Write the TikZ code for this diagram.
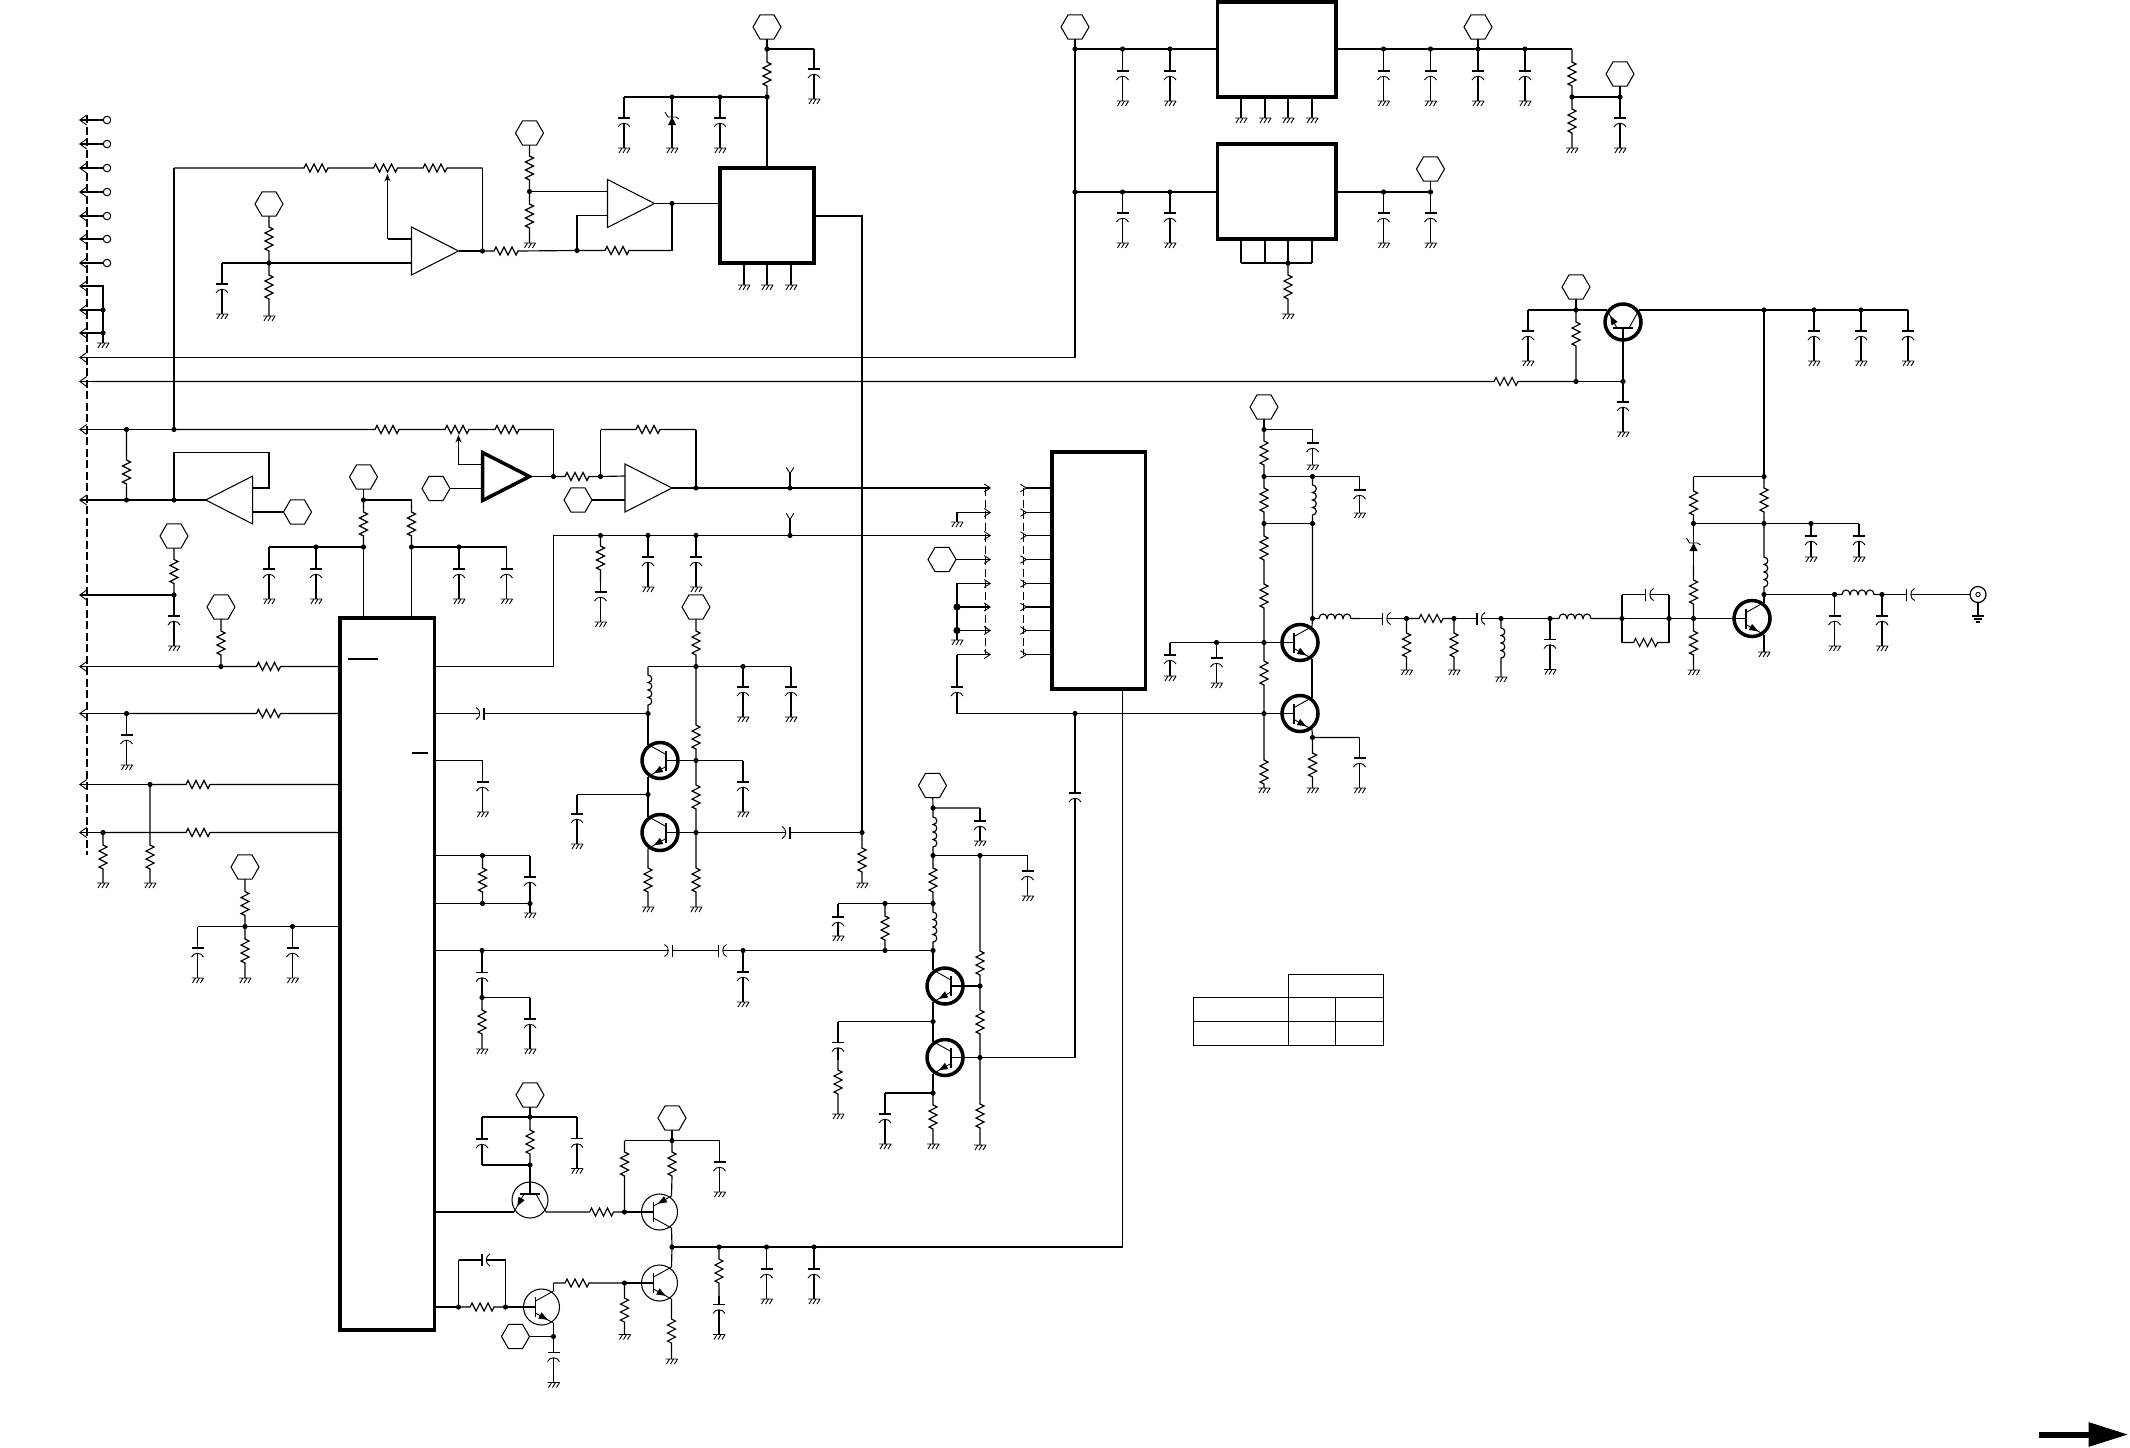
\documentclass[tikz,border=0pt]{standalone}
\usepackage{tikz}
\usetikzlibrary{shapes.geometric, arrows.meta, calc}

\tikzset{
    wire/.style={line width=.46pt},
    thinw/.style={line width=.36pt},
    hexn/.style={draw, line width=.42pt, regular polygon, regular polygon sides=6, minimum size=28*.4pt, inner sep=0pt, outer sep=0pt},
    ringn/.style={draw, line width=.4pt, circle, minimum size=7.5*.4pt, inner sep=0pt, outer sep=0pt},
    coax/.style={draw, line width=.5pt, circle, minimum size=16*.4pt, inner sep=0pt, outer sep=0pt},
    icbox/.style={draw, line width=1.25pt, inner sep=0pt, outer sep=0pt},
    cell/.style={draw, line width=.5pt, inner sep=0pt, outer sep=0pt},
    leftw/.style={wire, {Straight Barb[length=2.8pt,width=4pt,line width=.36pt]}-},
    rightw/.style={wire, -{Straight Barb[length=2.4pt,width=3.2pt,line width=.36pt]}},
    stubw/.style={wire, -{Straight Barb[length=2.4pt,width=3pt,line width=.36pt,reversed]}},
    wiper/.style={wire, -{Stealth[length=3pt,width=2.4pt]}},
    dashw/.style={line width=.42pt, dash pattern=on 3.2pt off 1.4pt},
    pics/npn/.style={code={
        \draw[line width=#1] (0,0) circle (18);
        \draw[wire] (-18,0) coordinate (-b) -- (-6,0);
        \draw[wire] (-6,-10) -- (-6,10);
        \draw[thinw] (-6,-6) -- (12,-16) coordinate (-c);
        \draw[thinw] (-6,6) -- (12,16) coordinate (-e);
        \fill (6.2,12.8) -- (-3.3,11.5) -- (.1,5.3) -- cycle;
    }},
    pics/pnp/.style={code={
        \draw[line width=#1] (0,0) circle (18);
        \draw[wire] (-18,0) coordinate (-b) -- (-6,0);
        \draw[wire] (-6,-10) -- (-6,10);
        \draw[thinw] (-6,-6) -- (12,-16) coordinate (-e);
        \draw[thinw] (-6,6) -- (12,16) coordinate (-c);
        \fill (-1.6,-8.4) -- (7.9,-9.7) -- (4.5,-15.9) -- cycle;
    }},
    pics/opamp/.style={code={
        \draw[line width=#1] (0,-24) -- (47,0) -- (0,24) -- cycle;
        \coordinate (-p) at (0,-12);
        \coordinate (-n) at (0,12);
        \coordinate (-o) at (47,0);
    }}
}

% Points on the board
\newcommand{\jn}[3]{\coordinate (#1) at (#2,#3); \fill (#1) circle (2.6);}
\newcommand{\cn}[3]{\coordinate (#1) at (#2,#3);}
\newcommand{\lport}[2]{\coordinate (#1) at (92,#2); \draw[leftw] (79,#2) -- (#1);}
\newcommand{\rport}[2]{\coordinate (#1) at (975,#2); \draw[rightw] (#1) -- (991,#2);}
\newcommand{\icnode}[5]{%
    \pgfmathsetmacro{\icw}{#4-#2}\pgfmathsetmacro{\ich}{#5-#3}%
    \pgfmathsetmacro{\icx}{(#4+#2)/2}\pgfmathsetmacro{\icy}{(#5+#3)/2}%
    \node[icbox, minimum width=\icw*.4pt, minimum height=\ich*.4pt] (#1) at (\icx,\icy) {};}
% Parts in a wire: from, to, centre
\newcommand{\gnd}[1]{\draw[thinw] ($(#1)+(-6,0)$) -- ++(12,0) ($(#1)+(-2,0)$) -- ++(-3,5) ($(#1)+(2,0)$) -- ++(-3,5) ($(#1)+(6,0)$) -- ++(-3,5);}
\newcommand{\resv}[3]{\coordinate (cm) at (#1 |- 0,#3);
    \draw[wire] (#1) -- ($(cm)+(0,-12)$) -- ++(4,2) -- ++(-8,4) -- ++(8,4) -- ++(-8,4) -- ++(8,4) -- ++(-8,4) -- ++(4,2) -- (#2);}
\newcommand{\resh}[3]{\coordinate (cm) at (#3,0 |- #1);
    \draw[wire] (#1) -- ($(cm)+(-12,0)$) -- ++(2,-4) -- ++(4,8) -- ++(4,-8) -- ++(4,8) -- ++(4,-8) -- ++(4,8) -- ++(2,-4) -- (#2);}
\newcommand{\indv}[3]{\coordinate (cm) at (#1 |- 0,#3);
    \draw[wire] (#1) -- ($(cm)+(0,-15)$) \foreach \k in {1,2,3,4} { .. controls +(5,0) and +(5,0) .. ++(0,7.5) } -- (#2);}
\newcommand{\indh}[3]{\coordinate (cm) at (#3,0 |- #1);
    \draw[wire] (#1) -- ($(cm)+(-16,0)$) \foreach \k in {1,2,3,4} { .. controls +(0,-6) and +(0,-6) .. ++(8,0) } -- (#2);}
\newcommand{\capv}[3]{\coordinate (cm) at (#1 |- 0,#3);
    \draw[wire] (#1) -- (cm) ($(cm)+(-6,0)$) -- ++(12,0) ($(cm)+(0,5)$) -- (#2);
    \draw[thinw] ($(cm)+(-6,9)$) .. controls +(2,-5) and +(-2,-5) .. ++(12,0);}
\newcommand{\caph}[4]{\coordinate (cm) at (#3,0 |- #1);
    \pgfmathsetmacro{\capa}{#4<0 ? -4 : 0}\pgfmathsetmacro{\capd}{#4<0 ? 0 : 4}%
    \pgfmathsetmacro{\capb}{#4*8}\pgfmathsetmacro{\capc}{-#4*5}%
    \draw[wire] (#1) -- ($(cm)+(\capa,0)$) ($(cm)+(0,-6)$) -- ++(0,12) ($(cm)+(\capd,0)$) -- (#2);
    \draw[thinw] ($(cm)+(\capb,-6)$) .. controls +(\capc,2) and +(\capc,-2) .. ++(0,12);}
\newcommand{\zenv}[3]{\coordinate (cm) at (#1 |- 0,#3);
    \draw[wire] (#1) -- (#2);
    \fill ($(cm)+(-4,4)$) -- ++(8,0) -- ++(-4,-8) -- cycle;
    \draw[thinw] ($(cm)+(-7,-9)$) -- ++(3,5) -- ++(8,0) -- ++(3,2);}
% Parts to ground: from, ground height, centre
\newcommand{\wireg}[2]{\coordinate (cg) at (#1 |- 0,#2); \draw[wire] (#1) -- (cg); \gnd{cg}}
\newcommand{\resg}[3]{\coordinate (cg) at (#1 |- 0,#2); \resv{#1}{cg}{#3} \gnd{cg}}
\newcommand{\capg}[3][30]{\coordinate (cg) at (#2 |- 0,#3); \pgfmathsetmacro{\capy}{#3-#1}\capv{#2}{cg}{\capy} \gnd{cg}}

\begin{document}
\begin{tikzpicture}[x=.4pt, y=-.4pt]
    \useasboundingbox (0,0) rectangle (2130,1447);

    % Connector edges
    \draw[dashw] (87,115) -- (87,855);
    \draw[dashw] (985.5,488) -- (985.5,655);
    \draw[dashw] (1023.5,488) -- (1023.5,655);

    % Ports on the left
    \foreach \y in {120,144,168,192,216,239,263} {
        \node[ringn] (rg\y) at (107,\y) {};
        \coordinate (pin) at (79,\y);
        \draw[leftw] (pin) -- (rg\y);
    }
    \lport{pa}{286} \lport{pb}{310} \lport{pc}{333}
    \cn{lg1}{103}{286} \jn{lg2}{103}{310} \jn{lg3}{103}{333}
    \draw[wire] (pa) -- (lg1) -- (lg3);
    \draw[wire] (pb) -- (lg2);
    \draw[wire] (pc) -- (lg3);
    \wireg{lg3}{343}
    \lport{pd}{357.5} \lport{pe}{381.5} \lport{pf}{429.5} \lport{pg}{500}
    \lport{ph}{595} \lport{pi}{666.5} \lport{pj}{713.5} \lport{pk}{784.5} \lport{pm}{832.5}

    % Regulator at the top
    \node[hexn] (hxa) at (767,27) {};
    \jn{a1}{767}{49} \jn{a2}{767}{97} \cn{a3}{814}{49}
    \cn{a4}{624}{97} \jn{a5}{672}{97} \jn{a6}{720}{97}
    \icnode{ic1}{720}{168}{814}{263}
    \draw[wire] (hxa) -- (a1) -- (a3);
    \draw[wire] (a4) -- (a2);
    \draw[wire] (a2) -- (a2 |- ic1.north);
    \resv{a1}{a2}{74}
    \capg{a3}{99}
    \capg{a4}{148}
    \coordinate (a7) at (672,148);
    \zenv{a5}{a7}{121}
    \gnd{a7}
    \capg{a6}{148}
    \foreach \x in {744,767,791} {
        \coordinate (pin) at (\x,263);
        \wireg{pin}{285}
    }

    % Level amplifiers
    \pic (opa) at (411.5,251) {opamp=.42pt};
    \pic (opb) at (607.5,203.5) {opamp=.42pt};
    \cn{b1}{174}{168} \cn{b2}{482.5}{168} \jn{b3}{482.5}{251}
    \cn{b4}{351}{168} \cn{b5}{410}{168}
    \resh{b1}{b4}{316}
    \resh{b4}{b5}{385.5}
    \resh{b5}{b2}{435}
    \draw[wire] (b2) -- (b3);
    \draw[wire] (opa-o) -- (b3);
    \cn{b6}{387.5}{239} \cn{b7}{387.5}{174}
    \draw[wire] (opa-p) -- (b6);
    \draw[wiper] (b6) -- (b7);
    \node[hexn] (hxb) at (269,204) {};
    \jn{b8}{269}{263} \cn{b9}{222}{263}
    \resv{hxb}{b8}{239}
    \draw[wire] (b9) -- (opa-n);
    \capg{b9}{314}
    \resg{b8}{316}{287}

    \node[hexn] (hxc) at (529.5,133) {};
    \jn{c1}{529.5}{191.5} \cn{c2}{529.5}{243}
    \resv{hxc}{c1}{168}
    \resv{c1}{c2}{216}
    \gnd{c2}
    \draw[wire] (c1) -- (opb-p);
    \jn{c3}{577}{250.5} \cn{c4}{577}{215.5} \jn{c5}{672}{203.5} \cn{c6}{672}{250.5}
    \resh{b3}{c3}{506}
    \draw[wire] (c3) -- (c4) -- (opb-n);
    \resh{c3}{c6}{617}
    \draw[wire] (c6) -- (c5);
    \draw[wire] (opb-o) -- (c5) -- (ic1.west |- c5);

    % Supply regulators
    \node[hexn] (hxd) at (1075,27) {};
    \jn{d1}{1075}{49} \jn{d2}{1075}{192} \cn{d3}{1075}{357.5}
    \icnode{ic2}{1217.5}{2}{1336}{97}
    \icnode{ic3}{1217.5}{144}{1336}{239}
    \draw[wire] (pd) -- (d3) -- (d1) -- (hxd);
    \draw[wire] (d1) -- (ic2.west |- d1);
    \draw[wire] (d2) -- (ic3.west |- d2);
    \jn{d4}{1122.5}{49} \jn{d5}{1170}{49} \jn{d6}{1122.5}{192} \jn{d7}{1170}{192}
    \capg{d4}{101} \capg{d5}{101} \capg{d6}{243} \capg{d7}{243}
    \foreach \x in {1241,1265,1288,1312} {
        \coordinate (pin) at (\x,97);
        \wireg{pin}{118}
    }
    \node[hexn] (hxe) at (1478,27) {};
    \node[hexn] (hxf) at (1620,74) {};
    \node[hexn] (hxg) at (1430.5,169) {};
    \jn{d8}{1383.5}{49} \jn{d9}{1430.5}{49} \jn{d10}{1478}{49} \jn{d11}{1525}{49}
    \cn{d12}{1572}{49} \jn{d13}{1572}{97} \jn{d15}{1620}{97}
    \draw[wire] (ic2.east |- d8) -- (d12);
    \draw[wire] (hxe) -- (d10);
    \capg{d8}{101} \capg{d9}{101} \capg{d10}{101} \capg{d11}{101}
    \resv{d12}{d13}{74}
    \resg{d13}{148}{121}
    \draw[wire] (d13) -- (d15) -- (hxf);
    \capg{d15}{148}
    \jn{d16}{1383.5}{192} \jn{d17}{1430.5}{192}
    \draw[wire] (ic3.east |- d16) -- (d17) -- (hxg);
    \capg{d16}{243} \capg{d17}{243}
    \cn{d18}{1241}{263} \cn{d19}{1312}{263} \jn{d20}{1288}{263}
    \draw[wire] (d18) -- (d19);
    \foreach \x in {1241,1265,1288,1312} {
        \coordinate (pin) at (\x,263);
        \draw[wire] (pin |- ic3.south) -- (pin);
    }
    \resg{d20}{314}{287}

    % Switch transistor
    \pic[rotate=90, yscale=-1] (qa) at (1623,322) {npn=1.4pt};
    \node[hexn] (hxh) at (1576,287) {};
    \jn{e1}{1576}{381.5} \jn{e2}{1623}{381.5} \cn{e3}{1528}{310} \jn{e4}{1576}{310}
    \jn{e5}{1764}{310} \jn{e6}{1814}{310} \jn{e7}{1861}{310} \cn{e8}{1908}{310}
    \draw[wire] (e3) -- (qa-e);
    \draw[wire] (hxh) -- (e4);
    \resh{pe}{e1}{1506}
    \draw[wire] (e1) -- (e2) -- (qa-b);
    \resv{e4}{e1}{334}
    \capg{e3}{361}
    \capg{e2}{432}
    \draw[wire] (qa-c) -- (e8);
    \capg{e6}{361} \capg{e7}{361}
    \capg{e8}{361}

    % Lower level amplifiers
    \jn{f1}{126.5}{429.5} \jn{f2}{174}{429.5} \cn{f3}{422}{429.5} \cn{f4}{482}{429.5} \cn{f5}{553.5}{429.5}
    \jn{f6}{553.5}{476.5} \cn{f7}{458.5}{464.5} \cn{f8}{458.5}{435} \jn{f9}{600.5}{476.5}
    \cn{f10}{600.5}{429.5} \cn{f11}{696}{429.5} \jn{f12}{696}{488} \jn{f13}{790}{488} \cn{f14}{790}{467}
    \pic (opc) at (482.5,476.5) {opamp=1.4pt};
    \pic (opd) at (625,488) {opamp=.42pt};
    \node[hexn] (hxi) at (436,488.5) {};
    \node[hexn] (hxj) at (578,500) {};
    \rport{r1}{488}
    \draw[wire] (pf) -- (f2);
    \draw[wire] (b1) -- (f2);
    \resh{f2}{f3}{387}
    \resh{f3}{f4}{457}
    \resh{f4}{f5}{507}
    \draw[wire] (f5) -- (f6);
    \draw[wire] (opc-p) -- (f7);
    \draw[wiper] (f7) -- (f8);
    \draw[wire] (hxi) -- (opc-n);
    \draw[wire] (opc-o) -- (f6);
    \resh{f6}{f9}{577}
    \draw[wire] (f9) -- (opd-p);
    \draw[wire] (hxj) -- (opd-n);
    \draw[wire] (f9) -- (f10);
    \resh{f10}{f11}{648}
    \draw[wire] (f11) -- (f12);
    \draw[wire] (opd-o) -- (r1);
    \draw[stubw] (f13) -- (f14);

    \pic[xscale=-1] (ope) at (252.7,500) {opamp=.42pt};
    \node[hexn] (hxk) at (297.5,512) {};
    \jn{g1}{126.5}{500} \jn{g2}{174}{500}
    \cn{g3}{269}{488} \cn{g4}{269}{452.5} \cn{g5}{174}{452.5}
    \draw[wire] (pg) -- (ope-o);
    \resv{f1}{g1}{472}
    \draw[wire] (ope-p) -- (g3) -- (g4) -- (g5) -- (g2);
    \draw[wire] (ope-n) -- (hxk);

    % Main chip and what hangs on its left side
    \icnode{ic4}{340}{618}{434.5}{1330}
    \draw[wire] (348,659) -- (378,659);
    \draw[wire] (411.5,753) -- (428,753);
    \node[hexn] (hxl) at (363.5,477) {};
    \jn{k1}{363.5}{500} \cn{k2}{411.5}{500} \jn{k3}{363.5}{547} \jn{k4}{411.5}{547}
    \cn{k5}{269}{547} \jn{k6}{316}{547} \jn{k7}{459}{547} \cn{k8}{506.5}{547}
    \draw[wire] (hxl) -- (k1) -- (k2);
    \resv{k1}{k3}{524}
    \resv{k2}{k4}{524}
    \draw[wire] (k3) -- (k3 |- ic4.north);
    \draw[wire] (k4) -- (k4 |- ic4.north);
    \draw[wire] (k5) -- (k3);
    \draw[wire] (k4) -- (k8);
    \capg{k5}{599} \capg{k6}{599} \capg{k7}{599} \capg{k8}{599}

    \node[hexn] (hxm) at (174,536) {};
    \node[hexn] (hxn) at (221,607) {};
    \node[hexn] (hxo) at (245,867) {};
    \jn{h1}{174}{595}
    \draw[wire] (ph) -- (h1);
    \resv{hxm}{h1}{571.5}
    \capg{h1}{646}
    \jn{i1}{221}{666.5}
    \coordinate (i2) at (ic4.west |- i1);
    \draw[wire] (pi) -- (i1);
    \resv{hxn}{i1}{643}
    \resh{i1}{i2}{268.5}
    \jn{j1}{126.5}{713.5}
    \coordinate (j2) at (ic4.west |- j1);
    \draw[wire] (pj) -- (j1);
    \resh{j1}{j2}{268.5}
    \capg{j1}{765}
    \jn{l1}{150}{784.5}
    \coordinate (l2) at (ic4.west |- l1);
    \draw[wire] (pk) -- (l1);
    \resh{l1}{l2}{198}
    \resg{l1}{883}{857}
    \jn{l3}{103}{832.5}
    \coordinate (l4) at (ic4.west |- l3);
    \draw[wire] (pm) -- (l3);
    \resh{l3}{l4}{198}
    \resg{l3}{883}{857}
    \jn{n1}{245}{926.5} \cn{n2}{197.5}{926.5} \jn{n3}{292.5}{926.5}
    \resv{hxo}{n1}{903.5}
    \resg{n1}{978}{951}
    \draw[wire] (n2) -- (ic4.west |- n2);
    \capg{n2}{978} \capg{n3}{978}

    % Upper output pair of the chip
    \jn{s3}{600.5}{535.5} \jn{s4}{648}{535.5} \jn{s5}{696}{535.5} \jn{s6}{790}{535.5}
    \cn{s1}{553.5}{666.5} \cn{s2}{553.5}{535.5} \cn{s7}{600.5}{582} \cn{s8}{790}{513}
    \rport{r3}{535.5}
    \draw[wire] (ic4.east |- s1) -- (s1) -- (s2) -- (r3);
    \draw[stubw] (s6) -- (s8);
    \resv{s3}{s7}{558}
    \capg{s7}{622}
    \capg{s4}{587} \capg{s5}{587}

    \node[hexn] (hxp) at (696,607) {};
    \pic[xscale=-1] (qb) at (660,760.5) {npn=1.4pt};
    \pic[xscale=-1] (qc) at (660,832.5) {npn=1.4pt};
    \jn{t1}{696}{666.5} \cn{t2}{648}{666.5} \jn{t3}{743}{666.5} \cn{t4}{791}{666.5}
    \jn{t5}{648}{713.5} \jn{t6}{696}{760.5} \jn{t7}{696}{832.5} \cn{t9}{743}{760.5}
    \jn{t10}{648}{794.5} \cn{t11}{577}{794.5} \cn{t12}{648}{907}
    \coordinate (t13) at (ic4.east |- t5);
    \jn{m2}{862}{832.5} \cn{c7}{862}{216}
    \resv{hxp}{t1}{643}
    \draw[wire] (t2) -- (t4);
    \capg{t3}{717} \capg{t4}{717}
    \indv{t2}{t5}{690}
    \caph{t13}{t5}{484}{-1}
    \draw[wire] (t5) -- (qb-c);
    \resv{t1}{t6}{737}
    \resv{t6}{t7}{797}
    \resg{t7}{907}{880}
    \draw[wire] (qb-b) -- (t6) -- (t9);
    \draw[wire] (qc-b) -- (t7);
    \capg{t9}{812}
    \draw[wire] (qb-e) -- (t10) -- (qc-c);
    \draw[wire] (t10) -- (t11);
    \capg{t11}{844}
    \resv{qc-e}{t12}{880}
    \gnd{t12}
    \caph{t7}{m2}{790}{-1}
    \resg{m2}{883}{860}
    \draw[wire] (ic1.east |- c7) -- (c7) -- (m2);

    \cn{u1}{482.5}{760.5} \jn{u2}{482.5}{855.5} \cn{u3}{530}{855.5}
    \jn{u4}{482.5}{903.5} \jn{u5}{530}{903.5} \cn{u6}{530}{913}
    \draw[wire] (ic4.east |- u1) -- (u1);
    \capg{u1}{812}
    \draw[wire] (ic4.east |- u2) -- (u3);
    \draw[wire] (ic4.east |- u4) -- (u5);
    \resv{u2}{u4}{880}
    \capv{u3}{u5}{877}
    \draw[wire] (u5) -- (u6);
    \gnd{u6}

    % Lower output pair of the chip
    \coordinate (v0) at (ic4.east |- 0,950.5);
    \jn{v1}{482}{950.5} \jn{v3}{743}{950.5} \jn{v4}{885}{950.5} \jn{v5}{933}{950.5} \cn{v6}{695}{950.5}
    \jn{v7}{482}{997.5} \cn{v8}{530}{997.5} \cn{v9}{838}{903.5} \jn{v10}{885}{903.5} \jn{v11}{933}{903.5}
    \node[hexn] (hxq) at (932.5,785.5) {};
    \jn{v13}{933}{808} \jn{v14}{933}{855.5} \cn{v15}{980}{808} \jn{v16}{980}{855.5} \cn{v17}{1027.5}{855.5}
    \jn{v18}{980}{986} \jn{v19}{980}{1057.5}
    \pic[xscale=-1] (qd) at (945,986) {npn=1.4pt};
    \pic[xscale=-1] (qe) at (945,1057.5) {npn=1.4pt};
    \draw[wire] (v0) -- (v1);
    \caph{v1}{v6}{672.5}{-1}
    \caph{v6}{v3}{718.5}{1}
    \draw[wire] (v3) -- (v5);
    \capg{v3}{1002}
    \capv{v1}{v7}{972.5}
    \resg{v7}{1049}{1022}
    \draw[wire] (v7) -- (v8);
    \capg{v8}{1049}
    \draw[wire] (v9) -- (v11);
    \capg[19]{v9}{936}
    \resv{v10}{v4}{928}
    \indv{v11}{v5}{927}
    \draw[wire] (hxq) -- (v13) -- (v15);
    \capg[20]{v15}{841}
    \indv{v13}{v14}{832}
    \resv{v14}{v11}{880}
    \draw[wire] (v14) -- (v17);
    \capg[25]{v17}{896}
    \resv{v16}{v18}{963}
    \resv{v18}{v19}{1022}
    \resg{v19}{1145}{1116}
    \draw[wire] (qd-b) -- (v18);
    \draw[wire] (qe-b) -- (v19);
    \draw[wire] (v5) -- (qd-c);
    \jn{v20}{933}{1021.5} \cn{v21}{838}{1021.5} \cn{v22}{838}{1060}
    \jn{v23}{933}{1093} \cn{v24}{885}{1093} \cn{v25}{1075}{1057.5}
    \draw[wire] (qd-e) -- (v20) -- (qe-c);
    \draw[wire] (v20) -- (v21);
    \capv{v21}{v22}{1042.5}
    \resg{v22}{1114}{1082}
    \draw[wire] (qe-e) -- (v23) -- (v24);
    \resg{v23}{1144}{1117}
    \capg{v24}{1144}
    \draw[wire] (v19) -- (v25);

    % Switching chip and its connector
    \icnode{ic5}{1052}{452}{1145.5}{689}
    \foreach \y in {488,512.5,535.5,559.5,583.5,607,630.5,654.5} {
        \coordinate (pin) at (1020,\y);
        \draw[stubw] (ic5.west |- pin) -- (pin);
    }
    \rport{r2}{512.5} \rport{r4}{559.5} \rport{r5}{583.5} \rport{r6}{607} \rport{r7}{630.5} \rport{r8}{654.5}
    \cn{w0}{957}{713.5} \jn{w1}{1075}{713.5} \jn{w2}{1264}{713.5} \cn{w3}{957}{654.5}
    \cn{w4}{957}{512.5} \cn{w5}{957}{522} \cn{w6}{957}{583.5} \jn{w7}{957}{607} \jn{w8}{957}{630.5} \cn{w9}{957}{640}
    \fill (w7) circle (3.6);
    \fill (w8) circle (3.6);
    \node[hexn] (hxr) at (942,559.5) {};
    \pic (qf) at (1300,642.5) {npn=1.4pt};
    \pic (qg) at (1300,713.5) {npn=1.4pt};
    \draw[wire] (w3) -- (r8);
    \capv{w3}{w0}{687}
    \draw[wire] (w0) -- (w2) -- (qg-b);
    \capv{w1}{v25}{793}
    \draw[wire] (r2) -- (w4) -- (w5);
    \gnd{w5}
    \draw[wire] (hxr) -- (r4);
    \draw[wire] (r5) -- (w6) -- (w9);
    \draw[wire] (w7) -- (r6);
    \draw[wire] (w8) -- (r7);
    \gnd{w9}

    % Output chain on the right
    \node[hexn] (hxs) at (1264,407) {};
    \jn{x1}{1264}{429.5} \cn{x2}{1312.5}{429.5} \jn{x3}{1264}{476.5} \jn{x4}{1312.5}{476.5} \cn{x5}{1359.5}{476.5}
    \jn{x6}{1264}{523.5} \jn{x7}{1312.5}{523.5} \jn{x8}{1264}{642.5} \cn{x14}{1264}{572}
    \jn{x9}{1216.5}{642.5} \cn{x10}{1170}{642.5} \jn{x11}{1312.5}{618.5} \jn{x12}{1312.5}{737.5} \cn{x13}{1359.5}{737.5}
    \draw[wire] (hxs) -- (x1) -- (x2);
    \capg[22]{x2}{465}
    \resv{x1}{x3}{453}
    \draw[wire] (x3) -- (x5);
    \capg[23]{x5}{513}
    \draw[wire] (x6) -- (x7);
    \resv{x3}{x6}{500}
    \indv{x4}{x7}{500}
    \resv{x6}{x14}{548}
    \resv{x14}{x8}{596}
    \draw[wire] (x10) -- (qf-b);
    \capg[21]{x10}{676}
    \capg[25]{x9}{683}
    \draw[wire] (x7) -- (x11) -- (qf-c);
    \draw[wire] (qf-e) -- (qg-c);
    \resv{x8}{w2}{673}
    \resg{w2}{788}{772}
    \draw[wire] (qg-e) -- (x12) -- (x13);
    \resg{x12}{788}{765}
    \capg{x13}{788}

    \cn{y0}{1360}{618.5} \jn{y1}{1406.5}{618.5} \jn{y2}{1454}{618.5} \jn{y3}{1501}{618.5} \jn{y4}{1550}{618.5}
    \jn{y5}{1622}{618.5} \jn{y6}{1669}{618.5} \jn{y7}{1693.5}{618.5} \cn{y8}{1501}{677}
    \cn{y9}{1622}{594.5} \cn{y10}{1669}{594.5} \cn{y11}{1622}{642.5} \cn{y12}{1669}{642.5}
    \pic (qh) at (1752,618.5) {npn=1.4pt};
    \indh{x11}{y0}{1335}
    \caph{y0}{y1}{1382.5}{1}
    \resh{y1}{y2}{1431}
    \caph{y2}{y3}{1477}{1}
    \draw[wire] (y3) -- (y4);
    \indh{y4}{y5}{1575}
    \resg{y1}{670}{645}
    \resg{y2}{670}{645}
    \indv{y3}{y8}{643}
    \gnd{y8}
    \capg{y4}{669.5}
    \draw[wire] (y9) -- (y11);
    \draw[wire] (y10) -- (y12);
    \caph{y9}{y10}{1645.5}{1}
    \resh{y11}{y12}{1645.5}
    \draw[wire] (y5) -- (y6) -- (y7) -- (qh-b);
    \jn{y13}{1693.5}{523.5} \cn{y14}{1693.5}{476.5} \jn{y15}{1764}{476.5} \jn{y16}{1764}{523.5} \jn{y17}{1764}{594.5}
    \cn{y18}{1693.5}{565} \cn{y19}{1859}{523.5} \jn{y20}{1811}{523.5} \cn{y21}{1764}{652}
    \draw[wire] (y14) -- (y15);
    \draw[wire] (e5) -- (y15);
    \resv{y14}{y13}{503}
    \resv{y15}{y16}{500}
    \indv{y16}{y17}{572}
    \draw[wire] (y17) -- (qh-c);
    \zenv{y13}{y18}{547}
    \resv{y18}{y7}{592}
    \resg{y7}{670}{643}
    \draw[wire] (y13) -- (y19);
    \capg[21]{y20}{557} \capg[21]{y19}{557}
    \draw[wire] (qh-e) -- (y21);
    \gnd{y21}
    \jn{y22}{1834.5}{594.5} \jn{y23}{1882}{594.5} \cn{y24}{1978}{616}
    \node[coax] (cx) at (1978,594.5) {};
    \draw[thinw] (cx) circle (2.2);
    \draw[wire] (y17) -- (y22);
    \indh{y22}{y23}{1858}
    \capg{y22}{646} \capg{y23}{646}
    \caph{y23}{cx}{1906.5}{1}
    \draw[wire] (cx) -- (y24);
    \draw[wire] ($(y24)+(-6,0)$) -- ++(12,0) ($(y24)+(-4,3)$) -- ++(8,0) ($(y24)+(-2,6)$) -- ++(4,0);

    % Drivers at the bottom
    \node[hexn] (hxt) at (530,1095) {};
    \node[hexn] (hxu) at (672,1118) {};
    \node[hexn] (hxv) at (515.5,1336.5) {};
    \pic[rotate=-90] (qi) at (530,1200) {npn=.42pt};
    \pic (qj) at (659.5,1212) {pnp=.42pt};
    \pic (qk) at (659.5,1283) {npn=.42pt};
    \pic (ql) at (541.5,1307) {npn=.42pt};
    \jn{aa1}{530}{1117} \cn{aa2}{482}{1117} \cn{aa3}{577}{1117} \jn{aa4}{530}{1165} \cn{aa5}{482}{1165}
    \draw[wire] (hxt) -- (aa1);
    \draw[wire] (aa2) -- (aa3);
    \resv{aa1}{aa4}{1142}
    \capv{aa2}{aa5}{1139}
    \draw[wire] (aa5) -- (aa4) -- (qi-b);
    \capg{aa3}{1168.5}
    \coordinate (aa6) at (ic4.east |- qi-e);
    \jn{aa7}{624.5}{1212} \jn{aa8}{672}{1140.5} \cn{aa9}{624.5}{1140.5} \cn{aa10}{719.5}{1140.5}
    \jn{aa11}{672}{1247} \jn{aa12}{719}{1247} \jn{aa13}{766.5}{1247} \jn{aa14}{814}{1247}
    \jn{aa15}{624.5}{1283} \cn{aa16}{719}{1296} \cn{z1}{1122.5}{1247}
    \draw[wire] (aa6) -- (qi-e);
    \resh{qi-c}{aa7}{601.5}
    \draw[wire] (aa7) -- (qj-b);
    \draw[wire] (hxu) -- (aa8);
    \draw[wire] (aa9) -- (aa10);
    \resv{aa8}{qj-e}{1164}
    \resv{aa9}{aa7}{1164}
    \capg{aa10}{1192}
    \draw[wire] (qj-c) -- (aa11) -- (qk-c);
    \draw[wire] (aa11) -- (z1) -- (ic5.south -| z1);
    \draw[wire] (aa15) -- (qk-b);
    \resg{aa15}{1334.5}{1310}
    \resg{qk-e}{1359}{1331}
    \resv{aa12}{aa16}{1271}
    \capg{aa16}{1334.5}
    \capg{aa13}{1299} \capg{aa14}{1299}
    \coordinate (bb0) at (ic4.east |- ql-b);
    \jn{bb1}{458.5}{1307} \jn{bb2}{505.5}{1307} \cn{bb3}{458.5}{1260} \cn{bb4}{505.5}{1260}
    \cn{bb5}{553.5}{1283} \jn{bb6}{553.5}{1336.5}
    \draw[wire] (bb0) -- (bb1);
    \resh{bb1}{bb2}{482}
    \draw[wire] (bb2) -- (ql-b);
    \draw[wire] (bb1) -- (bb3);
    \draw[wire] (bb2) -- (bb4);
    \caph{bb3}{bb4}{482}{1}
    \draw[wire] (ql-c) -- (bb5);
    \resh{bb5}{aa15}{577}
    \draw[wire] (ql-e) -- (bb6);
    \draw[wire] (hxv) -- (bb6);
    \capg{bb6}{1382.5}

    % Table
    \node[cell, minimum width=95*.4pt, minimum height=23*.4pt] (tb1) at (1335.8,985.8) {};
    \node[cell, minimum width=95*.4pt, minimum height=24*.4pt] (tb2) at (1240.8,1009.3) {};
    \node[cell, minimum width=47*.4pt, minimum height=24*.4pt] (tb3) at (1311.8,1009.3) {};
    \node[cell, minimum width=48*.4pt, minimum height=24*.4pt] (tb4) at (1359.3,1009.3) {};
    \node[cell, minimum width=95*.4pt, minimum height=24*.4pt] (tb5) at (1240.8,1033.3) {};
    \node[cell, minimum width=47*.4pt, minimum height=24*.4pt] (tb6) at (1311.8,1033.3) {};
    \node[cell, minimum width=48*.4pt, minimum height=24*.4pt] (tb7) at (1359.3,1033.3) {};

    % Arrow at the corner
    \cn{ar1}{2039}{1434.5} \cn{ar2}{2128.5}{1434.5}
    \draw[line width=2.4pt, -{Triangle[length=16pt,width=9.2pt]}] (ar1) -- (ar2);
\end{tikzpicture}
\end{document}
